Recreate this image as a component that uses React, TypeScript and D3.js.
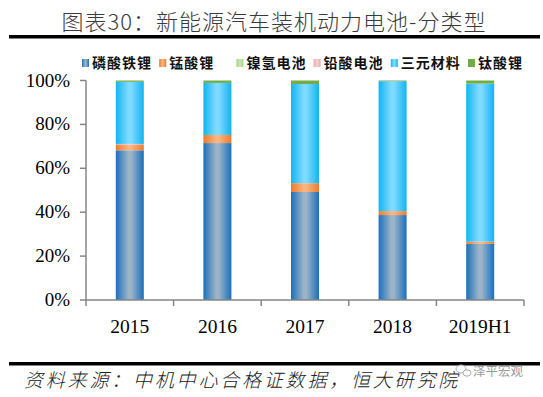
import * as d3 from "d3"
import React from "react"

const categories = ["2015", "2016", "2017", "2018", "2019H1"]
const seriesNames = ["磷酸铁锂", "锰酸锂", "镍氢电池", "铅酸电池", "三元材料", "钛酸锂"]
const lfp = [68.2, 71.5, 49.2, 38.7, 25.6]
const lmo = [2.4, 3.7, 4.0, 1.8, 1.0]
const nimh = [0, 0, 0, 0, 0]
const leadAcid = [0.5, 0, 0, 0, 0]
const ternary = [28.3, 23.7, 45.2, 59.2, 72.0]
const lto = [0.6, 1.1, 1.6, 0.3, 1.4]
const yTicks = [0, 20, 40, 60, 80, 100]

const seriesValues = [lfp, lmo, nimh, leadAcid, ternary, lto]
// edge / center colours for the horizontal bar gradient
const colors = [
  ["#1a70bd", "#9bb4c7"],
  ["#ee7a2a", "#f9b47f"],
  ["#a6d184", "#c9e6b5"],
  ["#e3aaa8", "#f4cfcd"],
  ["#12b4f2", "#7fdaff"],
  ["#70ad47", "#70ad47"],
]

const W = 543
const H = 397
const left = 86
const right = 524
const top = 80.5
const bottom = 300
const barW = 28

const App = () => {
  const rows = categories.map((c, i) => {
    const r: any = { cat: c }
    seriesNames.forEach((s, j) => (r[s] = seriesValues[j][i]))
    return r
  })
  const stacked = d3.stack().keys(seriesNames)(rows)

  const x = d3.scaleBand().domain(categories).range([left, right]).padding(0)
  const y = d3.scaleLinear().domain([0, 100]).range([bottom, top])
  const step = x.step()
  const axisColor = "#868686"
  const serif = "'Liberation Serif', 'Times New Roman', serif"
  const cjk = "'Noto Sans CJK SC', sans-serif"

  const legendStep = 77.2
  const legendX0 = 82

  return (
    <svg
      width={W}
      height={H}
      viewBox={`0 0 ${W} ${H}`}
      style={{ position: "absolute", left: 0, top: 0, background: "#fff" }}
    >
      <defs>
        {colors.map((c, i) => (
          <linearGradient id={"g" + i} key={i} x1="0" x2="1" y1="0" y2="0">
            <stop offset="0" stopColor={c[0]} />
            <stop offset="0.45" stopColor={c[1]} />
            <stop offset="0.55" stopColor={c[1]} />
            <stop offset="1" stopColor={c[0]} />
          </linearGradient>
        ))}
      </defs>
      <rect width={W} height={H} fill="#fff" />

      {/* title */}
      <text
        x={274}
        y={30}
        textAnchor="middle"
        fontFamily={cjk}
        fontWeight={300}
        fontSize={22}
        letterSpacing={1}
        fill="#3a3a3a"
      >
        图表30：新能源汽车装机动力电池-分类型
      </text>
      <rect x={9} y={35} width={531} height={3.5} fill="#000" />

      {/* legend */}
      {seriesNames.map((s, i) => {
        const lx = legendX0 + i * legendStep
        return (
          <g key={s}>
            <rect x={lx} y={59} width={7} height={8} fill={`url(#g${i})`} />
            <text
              x={lx + 10}
              y={68}
              fontFamily={cjk}
              fontWeight={700}
              fontSize={14}
              letterSpacing={1}
              fill="#111"
            >
              {s}
            </text>
          </g>
        )
      })}

      {/* bars */}
      {stacked.map((layer, i) => (
        <g key={layer.key} fill={`url(#g${i})`}>
          {layer.map((d, k) =>
            d[1] - d[0] > 0 ? (
              <rect
                key={k}
                x={(x(categories[k]) as number) + (step - barW) / 2}
                y={y(d[1])}
                width={barW}
                height={y(d[0]) - y(d[1])}
              />
            ) : null
          )}
        </g>
      ))}

      {/* y axis */}
      <line x1={left} x2={left} y1={y(100)} y2={bottom} stroke={axisColor} strokeWidth={1.5} />
      {yTicks.map((t) => (
        <g key={t}>
          <line x1={left - 6} x2={left} y1={y(t)} y2={y(t)} stroke={axisColor} strokeWidth={1.5} />
          <text
            x={70}
            y={y(t) + 6}
            textAnchor="end"
            fontFamily={serif}
            fontSize={19}
            fill="#000"
          >
            {t}%
          </text>
        </g>
      ))}

      {/* x axis */}
      <line x1={left} x2={right} y1={bottom} y2={bottom} stroke={axisColor} strokeWidth={1.5} />
      {categories.map((c, i) => (
        <g key={c}>
          <line
            x1={(x(c) as number) + step}
            x2={(x(c) as number) + step}
            y1={bottom}
            y2={bottom + 6}
            stroke={axisColor}
            strokeWidth={1.5}
          />
          <text
            x={(x(c) as number) + step / 2}
            y={333}
            textAnchor="middle"
            fontFamily={serif}
            fontSize={19.5}
            fill="#000"
          >
            {c}
          </text>
        </g>
      ))}
      <line x1={left} x2={left} y1={bottom} y2={bottom + 6} stroke={axisColor} strokeWidth={1.5} />

      {/* footer */}
      <rect x={9} y={362} width={531} height={3.5} fill="#000" />
      <text
        x={24}
        y={387}
        fontFamily={cjk}
        fontWeight={300}
        fontStyle="italic"
        fontSize={19}
        letterSpacing={2.8}
        fill="#222"
      >
        资料来源：中机中心合格证数据，恒大研究院
      </text>
      <g stroke="#aaa" strokeWidth={1} fill="#fff">
        <ellipse cx={461} cy={369} rx={5} ry={4} />
        <ellipse cx={467} cy={373} rx={4} ry={3.2} />
      </g>
      <text x={473} y={376} fontFamily={cjk} fontSize={12.5} fill="#9a9a9a">
        泽平宏观
      </text>
    </svg>
  )
}

export default App
